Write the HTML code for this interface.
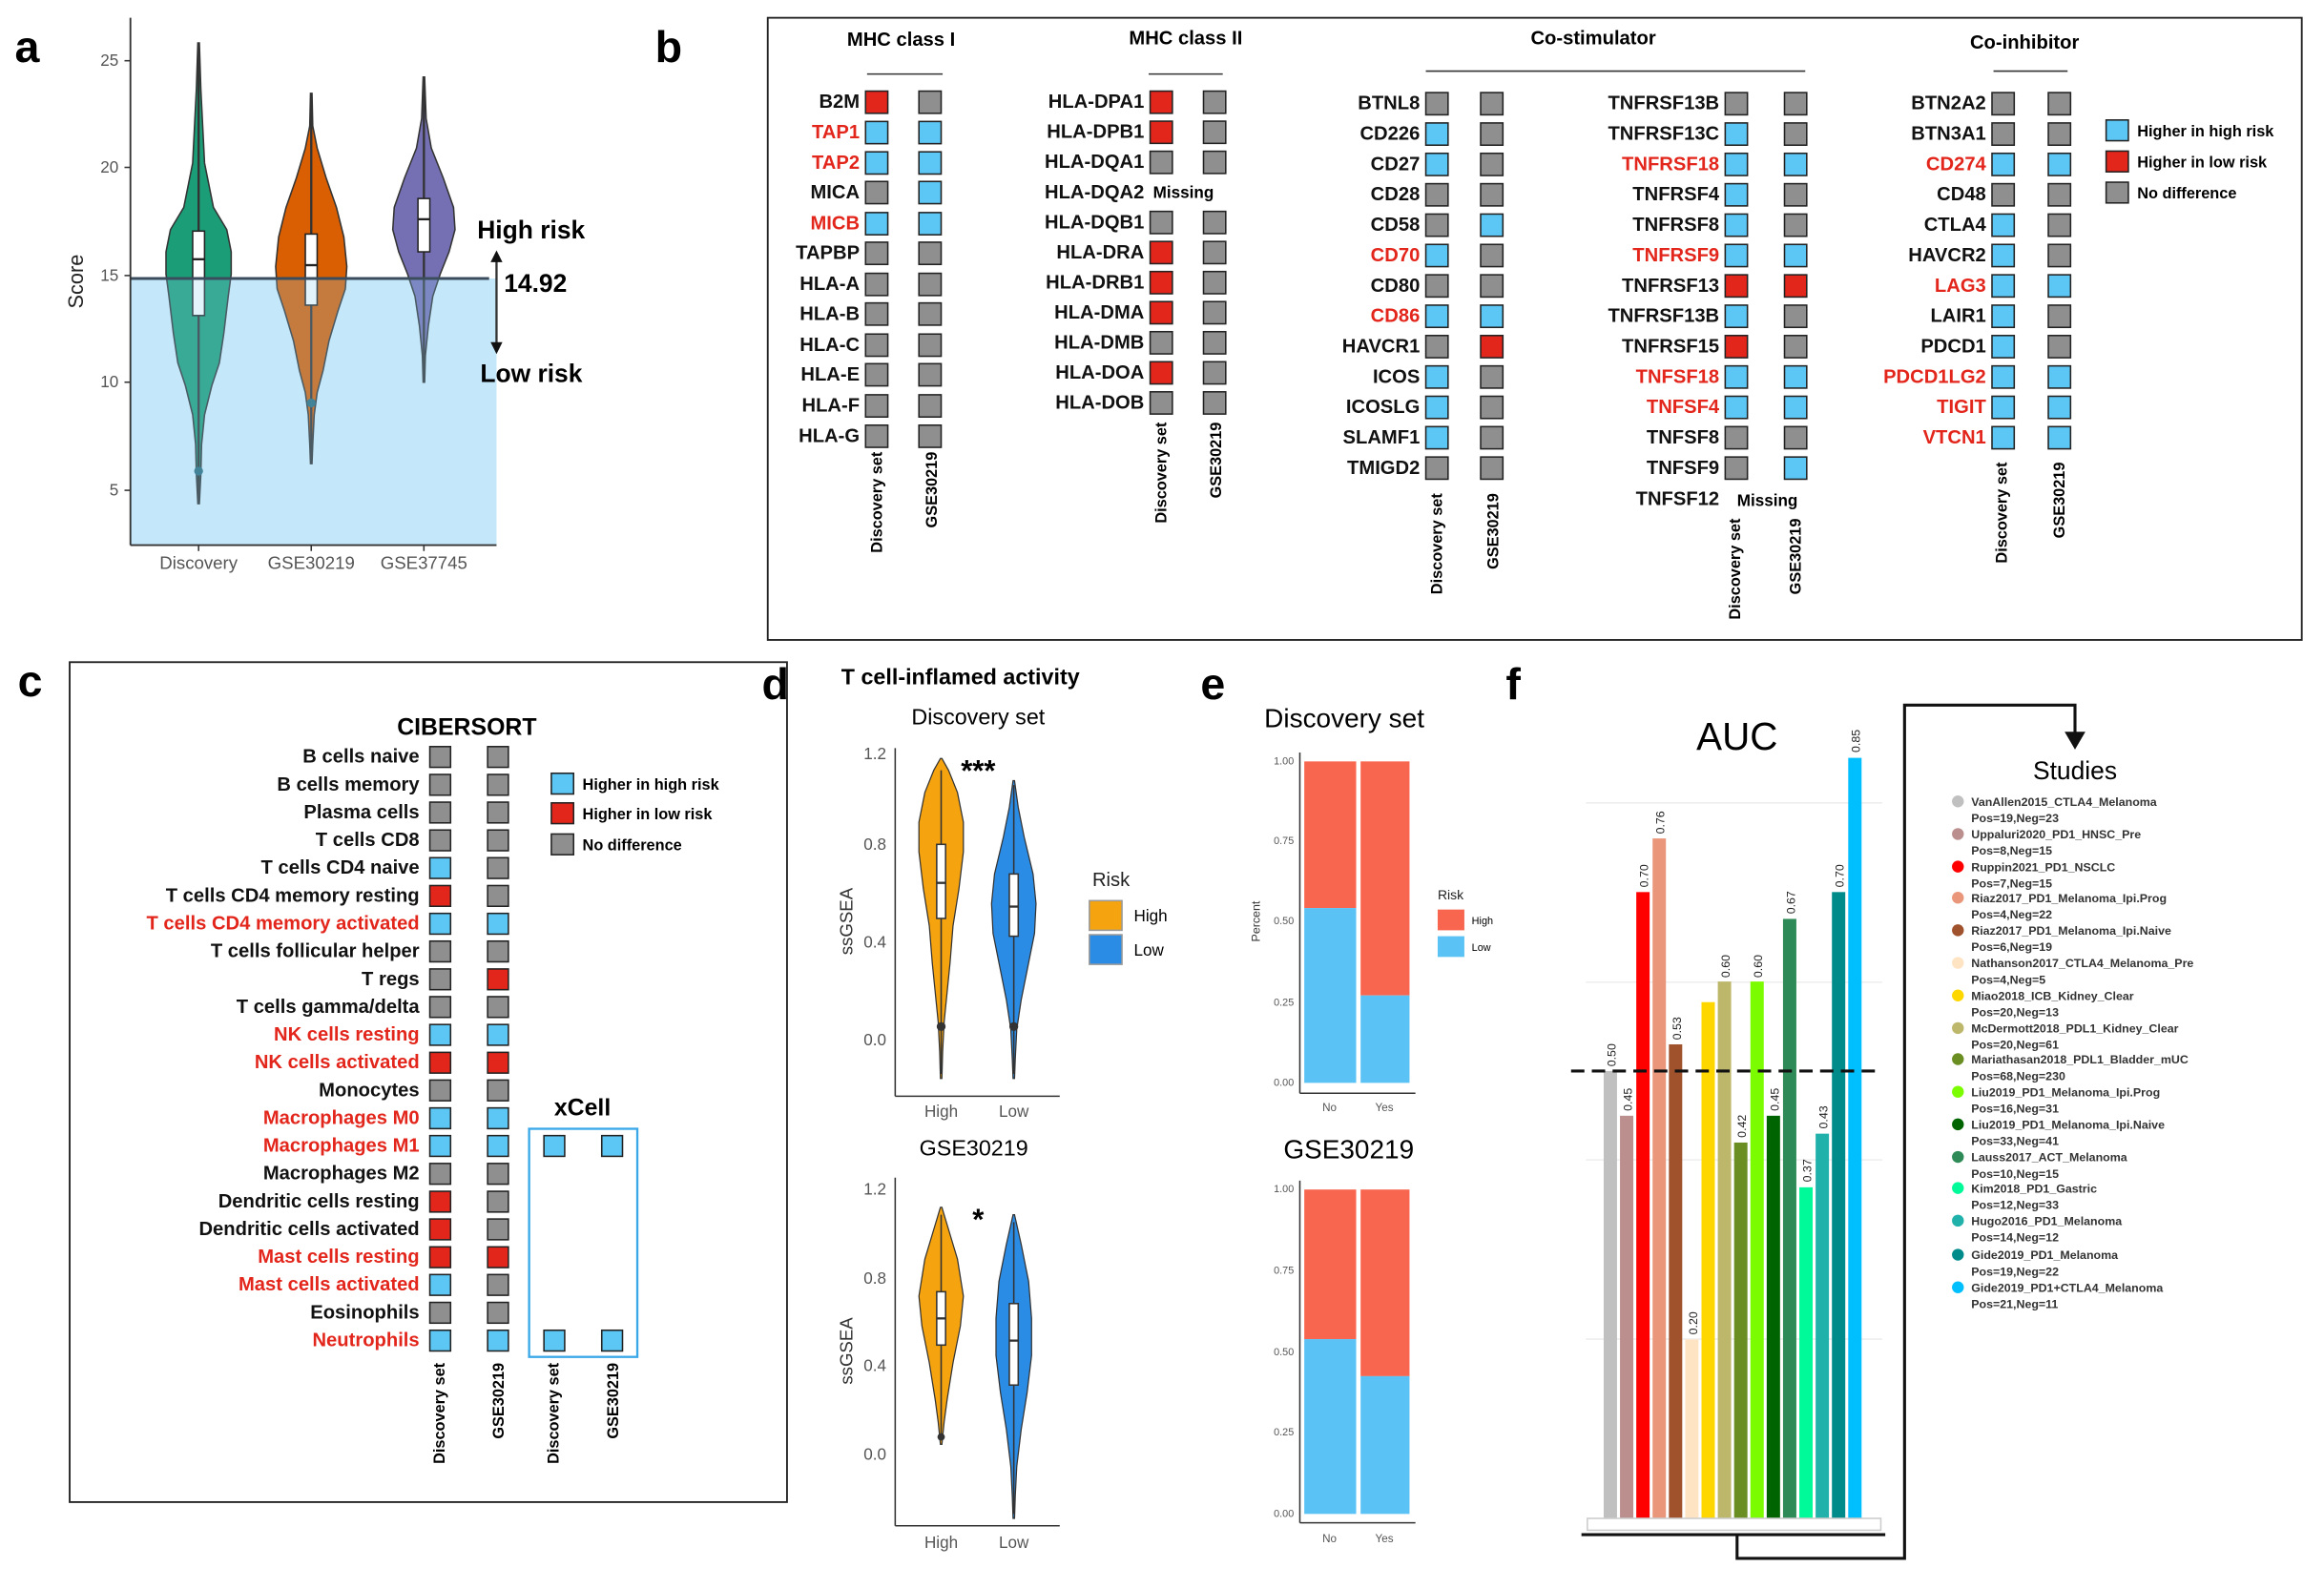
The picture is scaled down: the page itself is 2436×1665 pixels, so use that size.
<!DOCTYPE html>
<html><head><meta charset="utf-8"><style>
html,body{margin:0;padding:0;background:#fff}
svg{display:block}
text{font-family:"Liberation Sans",sans-serif}
.n{font-size:13px;font-weight:bold;text-anchor:end;dominant-baseline:central;fill:#111}
.nr{font-size:13px;font-weight:bold;text-anchor:end;dominant-baseline:central;fill:#e3261c}
.g{fill:#8f8f8f;stroke:#222;stroke-width:1}
.b{fill:#5cc6f4;stroke:#222;stroke-width:1}
.r{fill:#e3261c;stroke:#222;stroke-width:1}
.cl{font-size:10.5px;font-weight:bold;text-anchor:end}
.t{font-size:14px;font-weight:bold;text-anchor:middle}
.tk{font-size:11px;fill:#555;text-anchor:end;dominant-baseline:central}
.lg{font-size:8px;font-weight:bold;fill:#333}
.bl{font-size:8px;fill:#222}
</style></head><body>
<svg width="2436" height="1665" viewBox="0 0 1568 1072" preserveAspectRatio="none" xmlns="http://www.w3.org/2000/svg">
<!-- ===== a ===== -->
<text x="10" y="42" font-size="30" font-weight="bold">a</text>
<rect x="88" y="188" width="247" height="180" fill="#d6effd"/>
<polygon points="134.5,29 135.5,60 138,110 144,140 153,155 156,170 156,185 154,200 151,225 148,245 143,260 138,280 136,300 135.5,320 134.5,340 133.5,340 132.5,320 132,300 130,280 125,260 120,245 117,225 114,200 112,185 112,170 115,155 124,140 130,110 132.5,60 133.5,29" fill="#1b9e77" stroke="#333" stroke-width="1"/>
<polygon points="210.5,63 211,85 214,100 220,120 227,140 232,160 234,180 233,195 228,210 222,230 218,250 214,265 212,280 211,300 210.5,313 209.5,313 209,300 208,280 206,265 202,250 198,230 192,210 187,195 186,180 188,160 193,140 200,120 206,100 209,85 209.5,63" fill="#d95f02" stroke="#333" stroke-width="1"/>
<polygon points="286.5,52 287.5,80 291,100 299,120 306,140 307,155 303,170 297,185 292,200 289,220 287,240 286.5,258 285.5,258 285,240 283,220 280,200 275,185 269,170 265,155 266,140 273,120 281,100 284.5,80 285.5,52" fill="#7570b3" stroke="#333" stroke-width="1"/>
<line x1="134" y1="29" x2="134" y2="340" stroke="#333" stroke-width="1.5"/>
<line x1="210" y1="63" x2="210" y2="313" stroke="#333" stroke-width="1.5"/>
<line x1="286" y1="52" x2="286" y2="258" stroke="#333" stroke-width="1.5"/>
<rect x="130" y="156" width="8" height="57" fill="#fff" stroke="#222"/><line x1="130" y1="175" x2="138" y2="175" stroke="#222" stroke-width="1.5"/>
<rect x="206" y="158" width="8" height="48" fill="#fff" stroke="#222"/><line x1="206" y1="179" x2="214" y2="179" stroke="#222" stroke-width="1.5"/>
<rect x="282" y="134" width="8" height="36" fill="#fff" stroke="#222"/><line x1="282" y1="148" x2="290" y2="148" stroke="#222" stroke-width="1.5"/>
<circle cx="134" cy="318" r="3" fill="#2a6a7a"/><circle cx="210" cy="272" r="3" fill="#2a6a7a"/>
<rect x="88" y="188" width="247" height="180" fill="#8fd0f5" opacity="0.25"/>
<line x1="88" y1="188" x2="330" y2="188" stroke="#3b4d5c" stroke-width="2"/>
<line x1="88" y1="12" x2="88" y2="368" stroke="#333" stroke-width="1.2"/>
<line x1="88" y1="368" x2="335" y2="368" stroke="#333" stroke-width="1.2"/>
<g class="tk" style="font-size:11px"><text x="80" y="41">25</text><text x="80" y="113">20</text><text x="80" y="186">15</text><text x="80" y="258">10</text><text x="80" y="331">5</text></g>
<g stroke="#333"><line x1="84" y1="41" x2="88" y2="41"/><line x1="84" y1="113" x2="88" y2="113"/><line x1="84" y1="186" x2="88" y2="186"/><line x1="84" y1="258" x2="88" y2="258"/><line x1="84" y1="331" x2="88" y2="331"/><line x1="134" y1="368" x2="134" y2="372"/><line x1="210" y1="368" x2="210" y2="372"/><line x1="286" y1="368" x2="286" y2="372"/></g>
<g font-size="12" fill="#555" text-anchor="middle"><text x="134" y="384">Discovery</text><text x="210" y="384">GSE30219</text><text x="286" y="384">GSE37745</text></g>
<text transform="translate(56,190) rotate(-90)" font-size="14" text-anchor="middle" fill="#222">Score</text>
<text x="322" y="161" font-size="17" font-weight="bold">High risk</text>
<text x="340" y="197" font-size="17" font-weight="bold">14.92</text>
<text x="324" y="258" font-size="17" font-weight="bold">Low risk</text>
<line x1="335" y1="175" x2="335" y2="233" stroke="#333" stroke-width="1.5"/>
<polygon points="331,177 339,177 335,169" fill="#111"/><polygon points="331,231 339,231 335,239" fill="#111"/>

<!-- ===== b ===== -->
<text x="442" y="42" font-size="30" font-weight="bold">b</text>
<rect x="518" y="12" width="1035" height="420" fill="none" stroke="#222" stroke-width="1.2"/>
<text x="608" y="31" class="t" style="font-size:13px">MHC class I</text><line x1="585" y1="50" x2="636" y2="50" stroke="#333"/>
<text x="800" y="30" class="t" style="font-size:13px">MHC class II</text><line x1="775" y1="50" x2="825" y2="50" stroke="#333"/>
<text x="1075" y="30" class="t" style="font-size:13px">Co-stimulator</text><line x1="962" y1="48" x2="1218" y2="48" stroke="#333"/>
<text x="1366" y="33" class="t" style="font-size:13px">Co-inhibitor</text><line x1="1345" y1="48" x2="1395" y2="48" stroke="#333"/>
<!-- MHC I -->
<g>
<text class="n" x="580" y="69">B2M</text><rect class="r" x="584" y="61.5" width="15" height="15"/><rect class="g" x="620" y="61.5" width="15" height="15"/>
<text class="nr" x="580" y="89.5">TAP1</text><rect class="b" x="584" y="82" width="15" height="15"/><rect class="b" x="620" y="82" width="15" height="15"/>
<text class="nr" x="580" y="110">TAP2</text><rect class="b" x="584" y="102.5" width="15" height="15"/><rect class="b" x="620" y="102.5" width="15" height="15"/>
<text class="n" x="580" y="130">MICA</text><rect class="g" x="584" y="122.5" width="15" height="15"/><rect class="b" x="620" y="122.5" width="15" height="15"/>
<text class="nr" x="580" y="151">MICB</text><rect class="b" x="584" y="143.5" width="15" height="15"/><rect class="b" x="620" y="143.5" width="15" height="15"/>
<text class="n" x="580" y="171">TAPBP</text><rect class="g" x="584" y="163.5" width="15" height="15"/><rect class="g" x="620" y="163.5" width="15" height="15"/>
<text class="n" x="580" y="192">HLA-A</text><rect class="g" x="584" y="184.5" width="15" height="15"/><rect class="g" x="620" y="184.5" width="15" height="15"/>
<text class="n" x="580" y="212">HLA-B</text><rect class="g" x="584" y="204.5" width="15" height="15"/><rect class="g" x="620" y="204.5" width="15" height="15"/>
<text class="n" x="580" y="233">HLA-C</text><rect class="g" x="584" y="225.5" width="15" height="15"/><rect class="g" x="620" y="225.5" width="15" height="15"/>
<text class="n" x="580" y="253">HLA-E</text><rect class="g" x="584" y="245.5" width="15" height="15"/><rect class="g" x="620" y="245.5" width="15" height="15"/>
<text class="n" x="580" y="274">HLA-F</text><rect class="g" x="584" y="266.5" width="15" height="15"/><rect class="g" x="620" y="266.5" width="15" height="15"/>
<text class="n" x="580" y="294.5">HLA-G</text><rect class="g" x="584" y="287" width="15" height="15"/><rect class="g" x="620" y="287" width="15" height="15"/>
<text class="cl" transform="translate(595,305) rotate(-90)">Discovery set</text>
<text class="cl" transform="translate(632,305) rotate(-90)">GSE30219</text>
</g>
<!-- MHC II -->
<g>
<text class="n" x="772" y="69">HLA-DPA1</text><rect class="r" x="776" y="61.5" width="15" height="15"/><rect class="g" x="812" y="61.5" width="15" height="15"/>
<text class="n" x="772" y="89.3">HLA-DPB1</text><rect class="r" x="776" y="81.8" width="15" height="15"/><rect class="g" x="812" y="81.8" width="15" height="15"/>
<text class="n" x="772" y="109.6">HLA-DQA1</text><rect class="g" x="776" y="102.1" width="15" height="15"/><rect class="g" x="812" y="102.1" width="15" height="15"/>
<text class="n" x="772" y="129.9">HLA-DQA2</text><text x="778" y="130" font-size="11" font-weight="bold" dominant-baseline="central">Missing</text>
<text class="n" x="772" y="150.2">HLA-DQB1</text><rect class="g" x="776" y="142.7" width="15" height="15"/><rect class="g" x="812" y="142.7" width="15" height="15"/>
<text class="n" x="772" y="170.5">HLA-DRA</text><rect class="r" x="776" y="163" width="15" height="15"/><rect class="g" x="812" y="163" width="15" height="15"/>
<text class="n" x="772" y="190.8">HLA-DRB1</text><rect class="r" x="776" y="183.3" width="15" height="15"/><rect class="g" x="812" y="183.3" width="15" height="15"/>
<text class="n" x="772" y="211.1">HLA-DMA</text><rect class="r" x="776" y="203.6" width="15" height="15"/><rect class="g" x="812" y="203.6" width="15" height="15"/>
<text class="n" x="772" y="231.4">HLA-DMB</text><rect class="g" x="776" y="223.9" width="15" height="15"/><rect class="g" x="812" y="223.9" width="15" height="15"/>
<text class="n" x="772" y="251.7">HLA-DOA</text><rect class="r" x="776" y="244.2" width="15" height="15"/><rect class="g" x="812" y="244.2" width="15" height="15"/>
<text class="n" x="772" y="272">HLA-DOB</text><rect class="g" x="776" y="264.5" width="15" height="15"/><rect class="g" x="812" y="264.5" width="15" height="15"/>
<text class="cl" transform="translate(787,285) rotate(-90)">Discovery set</text>
<text class="cl" transform="translate(824,285) rotate(-90)">GSE30219</text>
</g>
<!-- Co-stim left -->
<g>
<text class="n" x="958" y="70">BTNL8</text><rect class="g" x="962" y="62.5" width="15" height="15"/><rect class="g" x="999" y="62.5" width="15" height="15"/>
<text class="n" x="958" y="90.5">CD226</text><rect class="b" x="962" y="83" width="15" height="15"/><rect class="g" x="999" y="83" width="15" height="15"/>
<text class="n" x="958" y="111">CD27</text><rect class="b" x="962" y="103.5" width="15" height="15"/><rect class="g" x="999" y="103.5" width="15" height="15"/>
<text class="n" x="958" y="131.5">CD28</text><rect class="g" x="962" y="124" width="15" height="15"/><rect class="g" x="999" y="124" width="15" height="15"/>
<text class="n" x="958" y="152">CD58</text><rect class="g" x="962" y="144.5" width="15" height="15"/><rect class="b" x="999" y="144.5" width="15" height="15"/>
<text class="nr" x="958" y="172.5">CD70</text><rect class="b" x="962" y="165" width="15" height="15"/><rect class="g" x="999" y="165" width="15" height="15"/>
<text class="n" x="958" y="193">CD80</text><rect class="g" x="962" y="185.5" width="15" height="15"/><rect class="g" x="999" y="185.5" width="15" height="15"/>
<text class="nr" x="958" y="213.5">CD86</text><rect class="b" x="962" y="206" width="15" height="15"/><rect class="b" x="999" y="206" width="15" height="15"/>
<text class="n" x="958" y="234">HAVCR1</text><rect class="g" x="962" y="226.5" width="15" height="15"/><rect class="r" x="999" y="226.5" width="15" height="15"/>
<text class="n" x="958" y="254.5">ICOS</text><rect class="b" x="962" y="247" width="15" height="15"/><rect class="g" x="999" y="247" width="15" height="15"/>
<text class="n" x="958" y="275">ICOSLG</text><rect class="b" x="962" y="267.5" width="15" height="15"/><rect class="g" x="999" y="267.5" width="15" height="15"/>
<text class="n" x="958" y="295.5">SLAMF1</text><rect class="b" x="962" y="288" width="15" height="15"/><rect class="g" x="999" y="288" width="15" height="15"/>
<text class="n" x="958" y="316">TMIGD2</text><rect class="g" x="962" y="308.5" width="15" height="15"/><rect class="g" x="999" y="308.5" width="15" height="15"/>
<text class="cl" transform="translate(973,333) rotate(-90)">Discovery set</text>
<text class="cl" transform="translate(1011,333) rotate(-90)">GSE30219</text>
</g>
<!-- Co-stim right -->
<g>
<text class="n" x="1160" y="70">TNFRSF13B</text><rect class="g" x="1164" y="62.5" width="15" height="15"/><rect class="g" x="1204" y="62.5" width="15" height="15"/>
<text class="n" x="1160" y="90.5">TNFRSF13C</text><rect class="b" x="1164" y="83" width="15" height="15"/><rect class="g" x="1204" y="83" width="15" height="15"/>
<text class="nr" x="1160" y="111">TNFRSF18</text><rect class="b" x="1164" y="103.5" width="15" height="15"/><rect class="b" x="1204" y="103.5" width="15" height="15"/>
<text class="n" x="1160" y="131.5">TNFRSF4</text><rect class="b" x="1164" y="124" width="15" height="15"/><rect class="g" x="1204" y="124" width="15" height="15"/>
<text class="n" x="1160" y="152">TNFRSF8</text><rect class="b" x="1164" y="144.5" width="15" height="15"/><rect class="g" x="1204" y="144.5" width="15" height="15"/>
<text class="nr" x="1160" y="172.5">TNFRSF9</text><rect class="b" x="1164" y="165" width="15" height="15"/><rect class="b" x="1204" y="165" width="15" height="15"/>
<text class="n" x="1160" y="193">TNFRSF13</text><rect class="r" x="1164" y="185.5" width="15" height="15"/><rect class="r" x="1204" y="185.5" width="15" height="15"/>
<text class="n" x="1160" y="213.5">TNFRSF13B</text><rect class="b" x="1164" y="206" width="15" height="15"/><rect class="g" x="1204" y="206" width="15" height="15"/>
<text class="n" x="1160" y="234">TNFRSF15</text><rect class="r" x="1164" y="226.5" width="15" height="15"/><rect class="g" x="1204" y="226.5" width="15" height="15"/>
<text class="nr" x="1160" y="254.5">TNFSF18</text><rect class="b" x="1164" y="247" width="15" height="15"/><rect class="b" x="1204" y="247" width="15" height="15"/>
<text class="nr" x="1160" y="275">TNFSF4</text><rect class="b" x="1164" y="267.5" width="15" height="15"/><rect class="b" x="1204" y="267.5" width="15" height="15"/>
<text class="n" x="1160" y="295.5">TNFSF8</text><rect class="g" x="1164" y="288" width="15" height="15"/><rect class="g" x="1204" y="288" width="15" height="15"/>
<text class="n" x="1160" y="316">TNFSF9</text><rect class="g" x="1164" y="308.5" width="15" height="15"/><rect class="b" x="1204" y="308.5" width="15" height="15"/>
<text class="n" x="1160" y="337">TNFSF12</text><text x="1172" y="338" font-size="11" font-weight="bold" dominant-baseline="central">Missing</text>
<text class="cl" transform="translate(1174,350) rotate(-90)">Discovery set</text>
<text class="cl" transform="translate(1215,350) rotate(-90)">GSE30219</text>
</g>
<!-- Co-inhib -->
<g>
<text class="n" x="1340" y="70">BTN2A2</text><rect class="g" x="1344" y="62.5" width="15" height="15"/><rect class="g" x="1382" y="62.5" width="15" height="15"/>
<text class="n" x="1340" y="90.5">BTN3A1</text><rect class="g" x="1344" y="83" width="15" height="15"/><rect class="g" x="1382" y="83" width="15" height="15"/>
<text class="nr" x="1340" y="111">CD274</text><rect class="b" x="1344" y="103.5" width="15" height="15"/><rect class="b" x="1382" y="103.5" width="15" height="15"/>
<text class="n" x="1340" y="131.5">CD48</text><rect class="g" x="1344" y="124" width="15" height="15"/><rect class="g" x="1382" y="124" width="15" height="15"/>
<text class="n" x="1340" y="152">CTLA4</text><rect class="b" x="1344" y="144.5" width="15" height="15"/><rect class="g" x="1382" y="144.5" width="15" height="15"/>
<text class="n" x="1340" y="172.5">HAVCR2</text><rect class="b" x="1344" y="165" width="15" height="15"/><rect class="g" x="1382" y="165" width="15" height="15"/>
<text class="nr" x="1340" y="193">LAG3</text><rect class="b" x="1344" y="185.5" width="15" height="15"/><rect class="b" x="1382" y="185.5" width="15" height="15"/>
<text class="n" x="1340" y="213.5">LAIR1</text><rect class="b" x="1344" y="206" width="15" height="15"/><rect class="g" x="1382" y="206" width="15" height="15"/>
<text class="n" x="1340" y="234">PDCD1</text><rect class="b" x="1344" y="226.5" width="15" height="15"/><rect class="g" x="1382" y="226.5" width="15" height="15"/>
<text class="nr" x="1340" y="254.5">PDCD1LG2</text><rect class="b" x="1344" y="247" width="15" height="15"/><rect class="b" x="1382" y="247" width="15" height="15"/>
<text class="nr" x="1340" y="275">TIGIT</text><rect class="b" x="1344" y="267.5" width="15" height="15"/><rect class="b" x="1382" y="267.5" width="15" height="15"/>
<text class="nr" x="1340" y="295.5">VTCN1</text><rect class="b" x="1344" y="288" width="15" height="15"/><rect class="b" x="1382" y="288" width="15" height="15"/>
<text class="cl" transform="translate(1354,312) rotate(-90)">Discovery set</text>
<text class="cl" transform="translate(1393,312) rotate(-90)">GSE30219</text>
</g>
<rect class="b" x="1421" y="81" width="15" height="14"/><text x="1442" y="92" font-size="10.5" font-weight="bold">Higher in high risk</text>
<rect class="r" x="1421" y="102" width="15" height="14"/><text x="1442" y="113" font-size="10.5" font-weight="bold">Higher in low risk</text>
<rect class="g" x="1421" y="123" width="15" height="14"/><text x="1442" y="134" font-size="10.5" font-weight="bold">No difference</text>

<!-- ===== c ===== -->
<text x="12" y="470" font-size="30" font-weight="bold">c</text>
<rect x="47" y="447" width="484" height="567" fill="none" stroke="#222" stroke-width="1.2"/>
<text x="315" y="496" class="t" style="font-size:16px">CIBERSORT</text>
<g>
<text class="n" x="283" y="511">B cells naive</text><rect class="g" x="290" y="504" width="14" height="14"/><rect class="g" x="329" y="504" width="14" height="14"/>
<text class="n" x="283" y="529.8">B cells memory</text><rect class="g" x="290" y="522.8" width="14" height="14"/><rect class="g" x="329" y="522.8" width="14" height="14"/>
<text class="n" x="283" y="548.5">Plasma cells</text><rect class="g" x="290" y="541.5" width="14" height="14"/><rect class="g" x="329" y="541.5" width="14" height="14"/>
<text class="n" x="283" y="567.3">T cells CD8</text><rect class="g" x="290" y="560.3" width="14" height="14"/><rect class="g" x="329" y="560.3" width="14" height="14"/>
<text class="n" x="283" y="586">T cells CD4 naive</text><rect class="b" x="290" y="579" width="14" height="14"/><rect class="g" x="329" y="579" width="14" height="14"/>
<text class="n" x="283" y="604.8">T cells CD4 memory resting</text><rect class="r" x="290" y="597.8" width="14" height="14"/><rect class="g" x="329" y="597.8" width="14" height="14"/>
<text class="nr" x="283" y="623.6">T cells CD4 memory activated</text><rect class="b" x="290" y="616.6" width="14" height="14"/><rect class="b" x="329" y="616.6" width="14" height="14"/>
<text class="n" x="283" y="642.3">T cells follicular helper</text><rect class="g" x="290" y="635.3" width="14" height="14"/><rect class="g" x="329" y="635.3" width="14" height="14"/>
<text class="n" x="283" y="661.1">T regs</text><rect class="g" x="290" y="654.1" width="14" height="14"/><rect class="r" x="329" y="654.1" width="14" height="14"/>
<text class="n" x="283" y="679.8">T cells gamma/delta</text><rect class="g" x="290" y="672.8" width="14" height="14"/><rect class="g" x="329" y="672.8" width="14" height="14"/>
<text class="nr" x="283" y="698.6">NK cells resting</text><rect class="b" x="290" y="691.6" width="14" height="14"/><rect class="b" x="329" y="691.6" width="14" height="14"/>
<text class="nr" x="283" y="717.4">NK cells activated</text><rect class="r" x="290" y="710.4" width="14" height="14"/><rect class="r" x="329" y="710.4" width="14" height="14"/>
<text class="n" x="283" y="736.1">Monocytes</text><rect class="g" x="290" y="729.1" width="14" height="14"/><rect class="g" x="329" y="729.1" width="14" height="14"/>
<text class="nr" x="283" y="754.9">Macrophages M0</text><rect class="b" x="290" y="747.9" width="14" height="14"/><rect class="b" x="329" y="747.9" width="14" height="14"/>
<text class="nr" x="283" y="773.6">Macrophages M1</text><rect class="b" x="290" y="766.6" width="14" height="14"/><rect class="b" x="329" y="766.6" width="14" height="14"/>
<text class="n" x="283" y="792.4">Macrophages M2</text><rect class="g" x="290" y="785.4" width="14" height="14"/><rect class="g" x="329" y="785.4" width="14" height="14"/>
<text class="n" x="283" y="811.2">Dendritic cells resting</text><rect class="r" x="290" y="804.2" width="14" height="14"/><rect class="g" x="329" y="804.2" width="14" height="14"/>
<text class="n" x="283" y="829.9">Dendritic cells activated</text><rect class="r" x="290" y="822.9" width="14" height="14"/><rect class="g" x="329" y="822.9" width="14" height="14"/>
<text class="nr" x="283" y="848.7">Mast cells resting</text><rect class="r" x="290" y="841.7" width="14" height="14"/><rect class="r" x="329" y="841.7" width="14" height="14"/>
<text class="nr" x="283" y="867.4">Mast cells activated</text><rect class="b" x="290" y="860.4" width="14" height="14"/><rect class="g" x="329" y="860.4" width="14" height="14"/>
<text class="n" x="283" y="886.2">Eosinophils</text><rect class="g" x="290" y="879.2" width="14" height="14"/><rect class="g" x="329" y="879.2" width="14" height="14"/>
<text class="nr" x="283" y="905">Neutrophils</text><rect class="b" x="290" y="898" width="14" height="14"/><rect class="b" x="329" y="898" width="14" height="14"/>
</g>
<rect class="b" x="372" y="522" width="15" height="14"/><text x="393" y="533" font-size="10.5" font-weight="bold">Higher in high risk</text>
<rect class="r" x="372" y="542" width="15" height="14"/><text x="393" y="553" font-size="10.5" font-weight="bold">Higher in low risk</text>
<rect class="g" x="372" y="563" width="15" height="14"/><text x="393" y="574" font-size="10.5" font-weight="bold">No difference</text>
<text x="393" y="753" class="t" style="font-size:16px">xCell</text>
<rect x="357" y="762" width="73" height="154" fill="none" stroke="#3aa8e8" stroke-width="1.5"/>
<rect class="b" x="367" y="766.6" width="14" height="14"/><rect class="b" x="406" y="766.6" width="14" height="14"/>
<rect class="b" x="367" y="898" width="14" height="14"/><rect class="b" x="406" y="898" width="14" height="14"/>
<text class="cl" transform="translate(300,920) rotate(-90)">Discovery set</text>
<text class="cl" transform="translate(340,920) rotate(-90)">GSE30219</text>
<text class="cl" transform="translate(377,920) rotate(-90)">Discovery set</text>
<text class="cl" transform="translate(417,920) rotate(-90)">GSE30219</text>

<!-- ===== d ===== -->
<text x="514" y="472" font-size="30" font-weight="bold">d</text>
<text x="648" y="462" class="t" style="font-size:15px">T cell-inflamed activity</text>
<text x="660" y="489" font-size="15" text-anchor="middle">Discovery set</text>
<text x="657" y="780" font-size="15" text-anchor="middle">GSE30219</text>
<g stroke="#333" stroke-width="1">
<line x1="604" y1="505" x2="604" y2="740"/><line x1="604" y1="740" x2="715" y2="740"/>
<line x1="604" y1="795" x2="604" y2="1030"/><line x1="604" y1="1030" x2="715" y2="1030"/>
</g>
<g class="tk"><text x="598" y="509">1.2</text><text x="598" y="570">0.8</text><text x="598" y="636">0.4</text><text x="598" y="702">0.0</text>
<text x="598" y="803">1.2</text><text x="598" y="863">0.8</text><text x="598" y="922">0.4</text><text x="598" y="982">0.0</text></g>
<g font-size="11" fill="#555" text-anchor="middle"><text x="635" y="754">High</text><text x="684" y="754">Low</text><text x="635" y="1045">High</text><text x="684" y="1045">Low</text></g>
<text transform="translate(575,622) rotate(-90)" font-size="12" text-anchor="middle" fill="#333">ssGSEA</text>
<text transform="translate(575,912) rotate(-90)" font-size="12" text-anchor="middle" fill="#333">ssGSEA</text>
<text x="660" y="527" font-size="20" font-weight="bold" text-anchor="middle">***</text>
<text x="660" y="830" font-size="20" font-weight="bold" text-anchor="middle">*</text>
<polygon points="635.5,512 640,520 646,535 650,555 650,575 647,600 643,625 641,650 639,670 637,690 636,710 635.5,728 634.5,728 634,710 633,690 631,670 629,650 627,625 623,600 620,575 620,555 624,535 630,520 634.5,512" fill="#f5a30f" stroke="#333" stroke-width="0.8"/>
<polygon points="684.5,527 687,545 691,565 697,590 699,610 698,630 693,655 689,675 686,695 685,715 684.5,728 683.5,728 683,715 682,695 679,675 675,655 670,630 669,610 671,590 677,565 681,545 683.5,527" fill="#2b8ce6" stroke="#333" stroke-width="0.8"/>
<polygon points="635.5,815 640,830 646,850 650,875 648,895 643,920 639,945 637,960 635.5,975 634.5,975 633,960 631,945 627,920 622,895 620,875 624,850 630,830 634.5,815" fill="#f5a30f" stroke="#333" stroke-width="0.8"/>
<polygon points="684.5,820 689,840 694,865 696,890 696,915 693,940 689,965 686,990 685,1010 684.5,1025 683.5,1025 683,1010 682,990 679,965 675,940 672,915 672,890 674,865 679,840 683.5,820" fill="#2b8ce6" stroke="#333" stroke-width="0.8"/>
<g stroke="#333"><line x1="635" y1="520" x2="635" y2="725"/><line x1="684" y1="530" x2="684" y2="725"/><line x1="635" y1="820" x2="635" y2="970"/><line x1="684" y1="825" x2="684" y2="1022"/></g>
<rect x="632" y="570" width="6" height="50" fill="#fff" stroke="#333"/><line x1="632" y1="596" x2="638" y2="596" stroke="#333" stroke-width="1.5"/>
<rect x="681" y="590" width="6" height="42" fill="#fff" stroke="#333"/><line x1="681" y1="612" x2="687" y2="612" stroke="#333" stroke-width="1.5"/>
<rect x="632" y="872" width="6" height="36" fill="#fff" stroke="#333"/><line x1="632" y1="890" x2="638" y2="890" stroke="#333" stroke-width="1.5"/>
<rect x="681" y="880" width="6" height="55" fill="#fff" stroke="#333"/><line x1="681" y1="905" x2="687" y2="905" stroke="#333" stroke-width="1.5"/>
<circle cx="635" cy="693" r="3" fill="#333"/><circle cx="684" cy="693" r="3" fill="#333"/><circle cx="635" cy="970" r="2.5" fill="#333"/>
<text x="737" y="598" font-size="13" fill="#222">Risk</text>
<rect x="735" y="608" width="22" height="20" fill="#f5a30f" stroke="#999"/><text x="765" y="622" font-size="11">High</text>
<rect x="735" y="631" width="22" height="20" fill="#2b8ce6" stroke="#999"/><text x="765" y="645" font-size="11">Low</text>

<!-- ===== e ===== -->
<text x="810" y="472" font-size="30" font-weight="bold">e</text>
<text x="907" y="491" font-size="18" text-anchor="middle">Discovery set</text>
<text x="910" y="782" font-size="18" text-anchor="middle">GSE30219</text>
<rect x="880" y="514" width="35" height="99" fill="#f8664f"/><rect x="880" y="613" width="35" height="118" fill="#5bc2f5"/>
<rect x="918" y="514" width="33" height="158" fill="#f8664f"/><rect x="918" y="672" width="33" height="59" fill="#5bc2f5"/>
<rect x="880" y="803" width="35" height="101" fill="#f8664f"/><rect x="880" y="904" width="35" height="118" fill="#5bc2f5"/>
<rect x="918" y="803" width="33" height="126" fill="#f8664f"/><rect x="918" y="929" width="33" height="93" fill="#5bc2f5"/>
<g stroke="#333"><line x1="877" y1="508" x2="877" y2="738"/><line x1="877" y1="738" x2="955" y2="738"/><line x1="877" y1="797" x2="877" y2="1028"/><line x1="877" y1="1028" x2="955" y2="1028"/></g>
<g font-size="7" fill="#555" text-anchor="end" dominant-baseline="central">
<text x="873" y="514">1.00</text><text x="873" y="568">0.75</text><text x="873" y="622">0.50</text><text x="873" y="677">0.25</text><text x="873" y="731">0.00</text>
<text x="873" y="803">1.00</text><text x="873" y="858">0.75</text><text x="873" y="913">0.50</text><text x="873" y="967">0.25</text><text x="873" y="1022">0.00</text></g>
<g font-size="7.5" fill="#555" text-anchor="middle"><text x="897" y="750">No</text><text x="934" y="750">Yes</text><text x="897" y="1041">No</text><text x="934" y="1041">Yes</text></g>
<text transform="translate(850,622) rotate(-90)" font-size="8" text-anchor="middle" fill="#333">Percent</text>
<text x="970" y="607" font-size="9" fill="#222">Risk</text>
<rect x="970" y="614" width="18" height="14" fill="#f8664f"/><text x="993" y="624" font-size="7">High</text>
<rect x="970" y="632" width="18" height="14" fill="#5bc2f5"/><text x="993" y="642" font-size="7">Low</text>

<!-- ===== f ===== -->
<text x="1016" y="472" font-size="30" font-weight="bold">f</text>
<text x="1172" y="506" font-size="26" text-anchor="middle">AUC</text>
<g stroke="#eee"><line x1="1070" y1="904" x2="1270" y2="904"/><line x1="1070" y1="783" x2="1270" y2="783"/><line x1="1070" y1="663" x2="1270" y2="663"/><line x1="1070" y1="542" x2="1270" y2="542"/></g>
<rect x="1082" y="723" width="9" height="302" fill="#c0c0c0"/>
<rect x="1093" y="753.2" width="9" height="271.8" fill="#bc8f8f"/>
<rect x="1104" y="602.2" width="9" height="422.8" fill="#ff0000"/>
<rect x="1115" y="566" width="9" height="459" fill="#e9967a"/>
<rect x="1126" y="705" width="9" height="320" fill="#a0522d"/>
<rect x="1137" y="904.2" width="9" height="120.8" fill="#ffe4c4"/>
<rect x="1148" y="676.5" width="9" height="348.5" fill="#ffd700"/>
<rect x="1159" y="662.6" width="9" height="362.4" fill="#bdb76b"/>
<rect x="1170" y="771.3" width="9" height="253.7" fill="#6b8e23"/>
<rect x="1181" y="662.6" width="9" height="362.4" fill="#7cfc00"/>
<rect x="1192" y="753.2" width="9" height="271.8" fill="#006400"/>
<rect x="1203" y="620.3" width="9" height="404.7" fill="#2e8b57"/>
<rect x="1214" y="801.5" width="9" height="223.5" fill="#00fa9a"/>
<rect x="1225" y="765.3" width="9" height="259.7" fill="#20b2aa"/>
<rect x="1236" y="602.2" width="9" height="422.8" fill="#008b8b"/>
<rect x="1247" y="511.6" width="9" height="513.4" fill="#00bfff"/>
<line x1="1060" y1="723" x2="1270" y2="723" stroke="#111" stroke-width="2" stroke-dasharray="9,5"/>
<g class="bl">
<text transform="translate(1090,720) rotate(-90)">0.50</text>
<text transform="translate(1101,750) rotate(-90)">0.45</text>
<text transform="translate(1112,599) rotate(-90)">0.70</text>
<text transform="translate(1123,563) rotate(-90)">0.76</text>
<text transform="translate(1134,702) rotate(-90)">0.53</text>
<text transform="translate(1145,901) rotate(-90)">0.20</text>
<text transform="translate(1167,660) rotate(-90)">0.60</text>
<text transform="translate(1178,768) rotate(-90)">0.42</text>
<text transform="translate(1189,660) rotate(-90)">0.60</text>
<text transform="translate(1200,750) rotate(-90)">0.45</text>
<text transform="translate(1211,617) rotate(-90)">0.67</text>
<text transform="translate(1222,798) rotate(-90)">0.37</text>
<text transform="translate(1233,762) rotate(-90)">0.43</text>
<text transform="translate(1244,599) rotate(-90)">0.70</text>
<text transform="translate(1255,508) rotate(-90)">0.85</text>
</g>
<rect x="1071" y="1025" width="198" height="8" fill="#fff" stroke="#ccc"/>
<line x1="1067" y1="1036" x2="1272" y2="1036" stroke="#111" stroke-width="2"/>
<polyline points="1172,1036 1172,1052 1285,1052 1285,476 1400,476 1400,498" fill="none" stroke="#111" stroke-width="2"/>
<polygon points="1393,494 1407,494 1400,506" fill="#111"/>
<text x="1400" y="526" font-size="17" text-anchor="middle">Studies</text>
<g class="lg">
<circle cx="1321" cy="541" r="4" fill="#c0c0c0"/><text x="1330" y="544">VanAllen2015_CTLA4_Melanoma</text><text x="1330" y="555">Pos=19,Neg=23</text>
<circle cx="1321" cy="563" r="4" fill="#bc8f8f"/><text x="1330" y="566">Uppaluri2020_PD1_HNSC_Pre</text><text x="1330" y="577">Pos=8,Neg=15</text>
<circle cx="1321" cy="585" r="4" fill="#ff0000"/><text x="1330" y="588">Ruppin2021_PD1_NSCLC</text><text x="1330" y="599">Pos=7,Neg=15</text>
<circle cx="1321" cy="606" r="4" fill="#e9967a"/><text x="1330" y="609">Riaz2017_PD1_Melanoma_Ipi.Prog</text><text x="1330" y="620">Pos=4,Neg=22</text>
<circle cx="1321" cy="628" r="4" fill="#a0522d"/><text x="1330" y="631">Riaz2017_PD1_Melanoma_Ipi.Naive</text><text x="1330" y="642">Pos=6,Neg=19</text>
<circle cx="1321" cy="650" r="4" fill="#ffe4c4"/><text x="1330" y="653">Nathanson2017_CTLA4_Melanoma_Pre</text><text x="1330" y="664">Pos=4,Neg=5</text>
<circle cx="1321" cy="672" r="4" fill="#ffd700"/><text x="1330" y="675">Miao2018_ICB_Kidney_Clear</text><text x="1330" y="686">Pos=20,Neg=13</text>
<circle cx="1321" cy="694" r="4" fill="#bdb76b"/><text x="1330" y="697">McDermott2018_PDL1_Kidney_Clear</text><text x="1330" y="708">Pos=20,Neg=61</text>
<circle cx="1321" cy="715" r="4" fill="#6b8e23"/><text x="1330" y="718">Mariathasan2018_PDL1_Bladder_mUC</text><text x="1330" y="729">Pos=68,Neg=230</text>
<circle cx="1321" cy="737" r="4" fill="#7cfc00"/><text x="1330" y="740">Liu2019_PD1_Melanoma_Ipi.Prog</text><text x="1330" y="751">Pos=16,Neg=31</text>
<circle cx="1321" cy="759" r="4" fill="#006400"/><text x="1330" y="762">Liu2019_PD1_Melanoma_Ipi.Naive</text><text x="1330" y="773">Pos=33,Neg=41</text>
<circle cx="1321" cy="781" r="4" fill="#2e8b57"/><text x="1330" y="784">Lauss2017_ACT_Melanoma</text><text x="1330" y="795">Pos=10,Neg=15</text>
<circle cx="1321" cy="802" r="4" fill="#00fa9a"/><text x="1330" y="805">Kim2018_PD1_Gastric</text><text x="1330" y="816">Pos=12,Neg=33</text>
<circle cx="1321" cy="824" r="4" fill="#20b2aa"/><text x="1330" y="827">Hugo2016_PD1_Melanoma</text><text x="1330" y="838">Pos=14,Neg=12</text>
<circle cx="1321" cy="847" r="4" fill="#008b8b"/><text x="1330" y="850">Gide2019_PD1_Melanoma</text><text x="1330" y="861">Pos=19,Neg=22</text>
<circle cx="1321" cy="869" r="4" fill="#00bfff"/><text x="1330" y="872">Gide2019_PD1+CTLA4_Melanoma</text><text x="1330" y="883">Pos=21,Neg=11</text>
</g>
</svg>
</body></html>
